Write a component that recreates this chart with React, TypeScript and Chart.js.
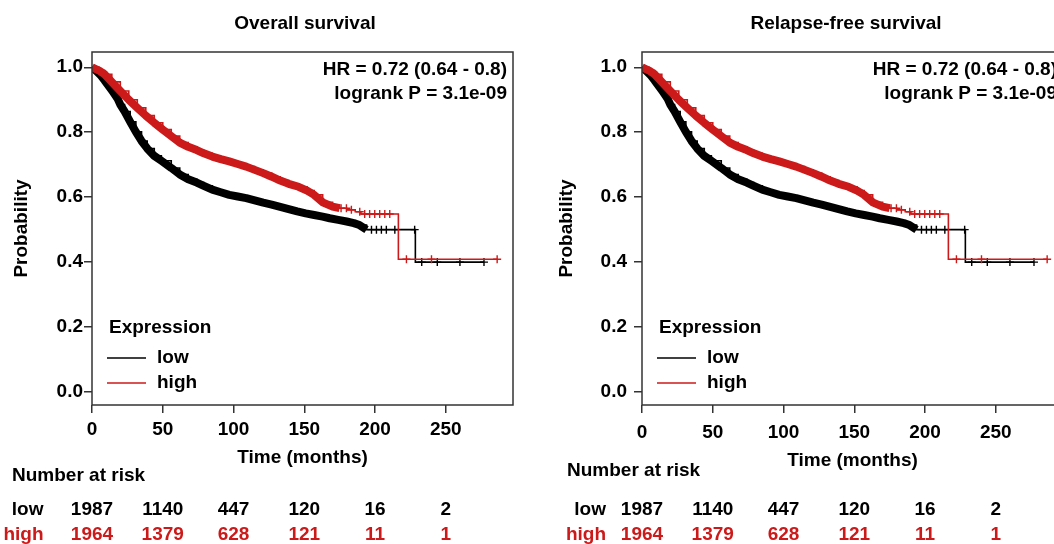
import React, { useEffect, useRef } from 'react';
import { Chart, registerables } from 'chart.js';

Chart.register(...registerables);

const FONT = '"Liberation Sans", Arial, Helvetica, sans-serif';
const BLACK = '#000000';
const RED = '#cc1a1a';
const AXIS = '#333333';

// ---- data ----
const xTickValues = [0, 50, 100, 150, 200, 250];
const yTickValues = [0, 0.2, 0.4, 0.6, 0.8, 1.0];

const lowMonths = [0, 3, 6, 9, 12, 15, 18, 20, 23, 27, 31, 35, 39, 44, 49, 56, 62, 68, 74, 79, 85, 91, 97, 103, 109, 115, 121, 127, 133, 139, 145, 151, 157, 163, 168, 174, 180, 185, 189, 194, 228.5, 277];
const lowSurvival = [1.0, 0.989, 0.976, 0.959, 0.941, 0.923, 0.904, 0.885, 0.864, 0.832, 0.801, 0.773, 0.75, 0.727, 0.712, 0.69, 0.67, 0.655, 0.645, 0.635, 0.623, 0.615, 0.607, 0.602, 0.597, 0.59, 0.583, 0.577, 0.57, 0.563, 0.556, 0.55, 0.545, 0.54, 0.535, 0.53, 0.525, 0.52, 0.514, 0.5, 0.4, 0.4];
const lowCensorMonths = [197.5, 201, 204.5, 208, 214, 228, 233, 244, 260, 277];

const highMonths = [0, 5, 9, 14, 20, 26, 32, 38, 44, 50, 56, 62, 68, 74, 79, 85, 91, 97, 103, 109, 115, 121, 127, 133, 139, 146, 152, 157, 163, 170, 175, 180, 186, 190, 216.5, 286.3];
const highSurvival = [1.0, 0.99, 0.978, 0.955, 0.927, 0.9, 0.875, 0.851, 0.829, 0.808, 0.788, 0.768, 0.755, 0.745, 0.735, 0.725, 0.717, 0.71, 0.702, 0.694, 0.684, 0.674, 0.663, 0.651, 0.641, 0.632, 0.62, 0.607, 0.584, 0.571, 0.566, 0.561, 0.555, 0.548, 0.409, 0.409];
const highCensorMonths = [176, 179.8, 183.3, 189.2, 192.7, 196.2, 199.8, 203.3, 206.9, 210.4, 222.2, 239.9, 286.3];

const riskLow = [1987, 1140, 447, 120, 16, 2];
const riskHigh = [1964, 1379, 628, 121, 11, 1];

const hrText = 'HR = 0.72 (0.64 - 0.8)';
const pText = 'logrank P = 3.1e-09';

// dense part of each curve (covered by censoring marks) drawn as a band
const LOW_BAND_END = 194;
const HIGH_BAND_END = 175;

type Panel = {
  title: string;
  titleX: number;
  canvasLeft: number;
  chartLeft: number;
  chartRight: number;
  yTickPad: number;
  yTitlePad: number;
  xTickPad: number;
  xScaleHeight: number;
  xTitlePad: number;
  riskTitleX: number;
  riskTitleY: number;
  riskLabelX: number;
};

const panels: Panel[] = [
  {
    title: 'Overall survival', titleX: 305, canvasLeft: 0, chartLeft: 92, chartRight: 513,
    yTickPad: 1, yTitlePad: 10.6, xTickPad: 5.6, xScaleHeight: 66, xTitlePad: 1.6,
    riskTitleX: 12, riskTitleY: 476, riskLabelX: 43.5,
  },
  {
    title: 'Relapse-free survival', titleX: 306, canvasLeft: 540, chartLeft: 102, chartRight: 523,
    yTickPad: 7, yTitlePad: 15.3, xTickPad: 8.6, xScaleHeight: 70, xTitlePad: 2.6,
    riskTitleX: 27, riskTitleY: 471, riskLabelX: 66,
  },
];

const W = 540;
const H = 544;
const CHART_TOP = 52;
const CHART_BOTTOM = 405;

const points = (months: number[], surv: number[]) => months.map((m, i) => ({ x: m, y: surv[i] }));
const stepValue = (months: number[], surv: number[], t: number) => {
  let v = surv[0];
  for (let i = 0; i < months.length; i++) if (months[i] <= t) v = surv[i];
  return v;
};
const censorPoints = (cm: number[], months: number[], surv: number[]) =>
  cm.map((t) => ({ x: t, y: stepValue(months, surv, t) }));
const bandPoints = (months: number[], surv: number[], end: number) =>
  points(months, surv).filter((p) => p.x <= end);

const boldFont = `bold 19px ${FONT}`;

function makeTextPlugin(panel: Panel) {
  return {
    id: 'kmText',
    afterDraw(chart: any) {
      const { ctx, chartArea } = chart;
      const xs = chart.scales.x;
      ctx.save();
      // plot frame
      ctx.strokeStyle = AXIS;
      ctx.lineWidth = 1.5;
      ctx.strokeRect(chartArea.left, chartArea.top, chartArea.right - chartArea.left, chartArea.bottom - chartArea.top);

      ctx.font = boldFont;
      ctx.textBaseline = 'middle';
      const put = (s: string, x: number, y: number, align: CanvasTextAlign, color: string) => {
        ctx.fillStyle = color;
        ctx.textAlign = align;
        ctx.fillText(s, x, y);
      };
      // title
      put(panel.title, panel.titleX, 24, 'center', BLACK);
      // statistics
      put(hrText, chartArea.right - 6, 70, 'right', BLACK);
      put(pText, chartArea.right - 6, 94, 'right', BLACK);
      // legend
      const L = chartArea.left;
      put('Expression', L + 17, 328, 'left', BLACK);
      ctx.lineWidth = 1.5;
      ctx.strokeStyle = BLACK;
      ctx.beginPath(); ctx.moveTo(L + 15, 358); ctx.lineTo(L + 54, 358); ctx.stroke();
      ctx.strokeStyle = RED;
      ctx.beginPath(); ctx.moveTo(L + 15, 383); ctx.lineTo(L + 54, 383); ctx.stroke();
      put('low', L + 65, 358, 'left', BLACK);
      put('high', L + 65, 383, 'left', BLACK);
      // number at risk
      put('Number at risk', panel.riskTitleX, panel.riskTitleY, 'left', BLACK);
      put('low', panel.riskLabelX, 510, 'right', BLACK);
      put('high', panel.riskLabelX, 535, 'right', RED);
      xTickValues.forEach((t, i) => {
        const px = xs.getPixelForValue(t);
        put(String(riskLow[i]), px, 510, 'center', BLACK);
        put(String(riskHigh[i]), px, 535, 'center', RED);
      });
      ctx.restore();
    },
  };
}

function buildConfig(panel: Panel): any {
  const tickFont = { family: FONT, size: 19, weight: 'bold' as const };
  return {
    type: 'line',
    data: {
      datasets: [
        {
          label: 'high censored', data: censorPoints(highCensorMonths, highMonths, highSurvival),
          showLine: false, pointStyle: 'cross', pointRadius: 4, pointBorderColor: RED, pointBorderWidth: 1.4,
          pointBackgroundColor: RED,
        },
        {
          label: 'high', data: points(highMonths, highSurvival), stepped: 'before',
          borderColor: RED, borderWidth: 1.6, pointRadius: 0, fill: false,
        },
        {
          label: 'high band', data: bandPoints(highMonths, highSurvival, HIGH_BAND_END),
          borderColor: RED, borderWidth: 8, pointRadius: 0, fill: false, tension: 0,
          borderJoinStyle: 'round', borderCapStyle: 'butt',
        },
        {
          label: 'low censored', data: censorPoints(lowCensorMonths, lowMonths, lowSurvival),
          showLine: false, pointStyle: 'cross', pointRadius: 4, pointBorderColor: BLACK, pointBorderWidth: 1.4,
          pointBackgroundColor: BLACK,
        },
        {
          label: 'low', data: points(lowMonths, lowSurvival), stepped: 'before',
          borderColor: BLACK, borderWidth: 1.6, pointRadius: 0, fill: false,
        },
        {
          label: 'low band', data: bandPoints(lowMonths, lowSurvival, LOW_BAND_END),
          borderColor: BLACK, borderWidth: 8, pointRadius: 0, fill: false, tension: 0,
          borderJoinStyle: 'round', borderCapStyle: 'butt',
        },
      ],
    },
    options: {
      animation: false,
      responsive: false,
      maintainAspectRatio: false,
      events: [],
      layout: {
        padding: { left: 0, top: CHART_TOP, right: W - panel.chartRight, bottom: H - CHART_BOTTOM - panel.xScaleHeight },
      },
      plugins: { legend: { display: false }, tooltip: { enabled: false }, title: { display: false } },
      scales: {
        x: {
          type: 'linear', min: 0, max: 297.5,
          afterFit: (s: any) => { s.height = panel.xScaleHeight; },
          afterBuildTicks: (s: any) => { s.ticks = xTickValues.map((v) => ({ value: v })); },
          ticks: { font: tickFont, color: BLACK, padding: panel.xTickPad, maxRotation: 0, autoSkip: false, callback: (v: any) => String(v) },
          grid: { display: true, drawOnChartArea: false, drawTicks: true, tickLength: 8, color: AXIS, lineWidth: 1.5 },
          border: { display: false },
          title: { display: true, text: 'Time (months)', font: tickFont, color: BLACK, padding: { top: 0, bottom: panel.xTitlePad } },
        },
        y: {
          type: 'linear', min: -0.04, max: 1.047,
          afterFit: (s: any) => { s.width = panel.chartLeft; },
          afterBuildTicks: (s: any) => { s.ticks = yTickValues.map((v) => ({ value: v })); },
          ticks: { font: tickFont, color: BLACK, padding: panel.yTickPad, callback: (v: any) => Number(v).toFixed(1) },
          grid: { display: true, drawOnChartArea: false, drawTicks: true, tickLength: 8, color: AXIS, lineWidth: 1.5 },
          border: { display: false },
          title: { display: true, text: 'Probability', font: tickFont, color: BLACK, padding: { top: panel.yTitlePad, bottom: 0 } },
        },
      },
    },
    plugins: [makeTextPlugin(panel)],
  };
}

function KMPanel({ panel }: { panel: Panel }) {
  const ref = useRef<HTMLCanvasElement>(null);
  useEffect(() => {
    if (!ref.current) return;
    const chart = new Chart(ref.current, buildConfig(panel));
    return () => chart.destroy();
  }, [panel]);
  return (
    <canvas
      ref={ref}
      width={W}
      height={H}
      style={{ position: 'absolute', left: panel.canvasLeft, top: 0, width: W, height: H }}
    />
  );
}

export default function App() {
  return (
    <div style={{ position: 'fixed', left: 0, top: 0, width: 1054, height: 544, overflow: 'hidden', background: '#ffffff' }}>
      {panels.map((p) => (
        <KMPanel key={p.title} panel={p} />
      ))}
    </div>
  );
}
